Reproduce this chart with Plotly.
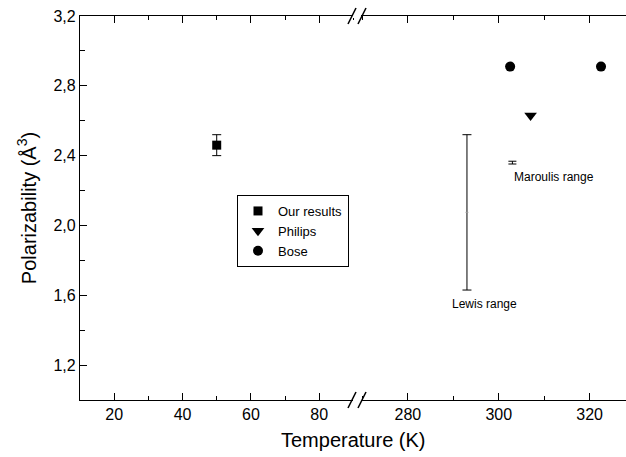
import plotly.graph_objects as go

# ---- data ----
our_T = [50]
our_P = [2.46]
our_err = [0.06]

philips_T = [307]
philips_P = [2.63]

bose_T = [302.5, 322.5]
bose_P = [2.91, 2.91]

lewis_T = [293]
lewis_P = [2.075]
lewis_err = [0.445]

maroulis_T = [303]
maroulis_P = [2.36]
maroulis_err = [0.008]

x_left_ticks = [20, 40, 60, 80]
x_right_ticks = [280, 300, 320]
y_ticks = [1.2, 1.6, 2.0, 2.4, 2.8, 3.2]

FONT = "Arial, Liberation Sans, sans-serif"
W, H = 626, 457
L, R, T, B = 80, 0, 16, 57
brk_px = 357
d = (brk_px - L) / (W - L - R)

fig = go.Figure()

fig.add_trace(go.Scatter(
    x=our_T, y=our_P, mode="markers", name="Our results",
    marker=dict(symbol="square", size=9, color="black"),
    error_y=dict(type="data", array=our_err, color="black", thickness=1, width=4.5),
    xaxis="x", yaxis="y"))
fig.add_trace(go.Scatter(
    x=philips_T, y=philips_P, mode="markers", name="Philips",
    marker=dict(symbol="triangle-down", size=11, color="black"),
    xaxis="x2", yaxis="y"))
fig.add_trace(go.Scatter(
    x=bose_T, y=bose_P, mode="markers", name="Bose",
    marker=dict(symbol="circle", size=10, color="black"),
    xaxis="x2", yaxis="y"))
fig.add_trace(go.Scatter(
    x=lewis_T, y=lewis_P, mode="markers", showlegend=False,
    marker=dict(symbol="line-ew", size=2, color="#999", line=dict(width=1, color="#999")),
    error_y=dict(type="data", array=lewis_err, color="black", thickness=1, width=4.5),
    xaxis="x2", yaxis="y"))
fig.add_trace(go.Scatter(
    x=maroulis_T, y=maroulis_P, mode="markers", showlegend=False,
    marker=dict(size=1, color="black", opacity=0),
    error_y=dict(type="data", array=maroulis_err, color="black", thickness=1, width=4),
    xaxis="x2", yaxis="y"))

axis_common = dict(
    showline=True, linecolor="black", linewidth=1.3, mirror="ticks",
    ticks="inside", ticklen=7, tickwidth=1.3, tickcolor="black",
    showgrid=False, zeroline=False,
    tickfont=dict(family=FONT, size=16, color="black"),
)

fig.update_layout(
    width=W, height=H,
    margin=dict(l=L, r=R, t=T, b=B),
    paper_bgcolor="white", plot_bgcolor="white",
    separators=",.",
    font=dict(family=FONT, color="black"),
    xaxis=dict(domain=[0, d], range=[10, 91.05], tickvals=x_left_ticks,
               minor=dict(dtick=10, ticks="inside", ticklen=4, tickwidth=1.3, tickcolor="black"),
               **axis_common),
    xaxis2=dict(domain=[d, 1], range=[268.8, 328], tickvals=x_right_ticks, anchor="y",
                minor=dict(dtick=10, ticks="inside", ticklen=4, tickwidth=1.3, tickcolor="black"),
                **axis_common),
    yaxis=dict(range=[1.0, 3.2], tickvals=y_ticks, tickformat=".1f",
               minor=dict(dtick=0.2, ticks="inside", ticklen=5, tickwidth=1.3, tickcolor="black"),
               title=dict(text="Polarizability (Å<sup>3</sup>)", font=dict(family=FONT, size=20), standoff=11),
               **{**axis_common, "mirror": False}),
    legend=dict(x=(237 - L) / (W - L - R), y=1 - (195 - T) / (H - T - B), xanchor="left", yanchor="top",
                bordercolor="black", borderwidth=1, bgcolor="white",
                font=dict(family=FONT, size=13, color="black"),
                itemwidth=30, tracegroupgap=0),
    showlegend=True,
)

# x-axis title
fig.add_annotation(text="Temperature (K)", xref="paper", yref="paper", x=0.5, y=0,
                   yshift=-27, yanchor="top", showarrow=False,
                   font=dict(family=FONT, size=20, color="black"))

# range labels
fig.add_annotation(text="Maroulis range", xref="x2", yref="y", x=303, y=2.28,
                   xanchor="left", yanchor="middle", showarrow=False,
                   font=dict(family=FONT, size=12, color="black"))
fig.add_annotation(text="Lewis range", xref="x2", yref="y", x=289.2, y=1.55,
                   xanchor="left", yanchor="middle", showarrow=False,
                   font=dict(family=FONT, size=12, color="black"))

# axis break marks (top and bottom)
for yp in (0, 1):
    fig.add_shape(type="rect", xref="paper", yref="paper", xsizemode="pixel", ysizemode="pixel",
                  xanchor=d, yanchor=yp, x0=-4, x1=4, y0=-2, y1=2,
                  fillcolor="white", line=dict(width=0), layer="above")
    for off in (-5, 5):
        fig.add_shape(type="line", xref="paper", yref="paper", xsizemode="pixel", ysizemode="pixel",
                      xanchor=d, yanchor=yp, x0=off - 4, x1=off + 4, y0=-8, y1=8,
                      line=dict(color="black", width=1.5), layer="above")

fig.write_html("out.html")
